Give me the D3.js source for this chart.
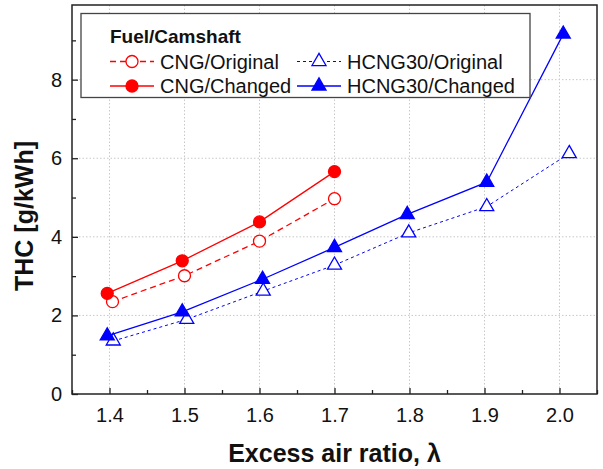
<!DOCTYPE html>
<html>
<head>
<meta charset="utf-8">
<script src="https://cdn.jsdelivr.net/npm/d3@7"></script>
<style>
  body { margin: 0; background: #fff; }
  svg { display: block; font-family: Arial, "Liberation Sans", sans-serif; }
</style>
</head>
<body>
<div id="chart"></div>
<script>
// Data
const cngOrigX = [1.404, 1.5, 1.6, 1.7];
const cngOrigY = [2.35, 3.01, 3.89, 4.97];
const cngChgX = [1.397, 1.497, 1.6, 1.7];
const cngChgY = [2.56, 3.39, 4.38, 5.66];
const hcngOrigX = [1.405, 1.503, 1.605, 1.7, 1.799, 1.903, 2.013];
const hcngOrigY = [1.35, 1.9, 2.62, 3.28, 4.1, 4.77, 6.12];
const hcngChgX = [1.397, 1.497, 1.604, 1.7, 1.797, 1.903, 2.005];
const hcngChgY = [1.48, 2.09, 2.92, 3.73, 4.57, 5.39, 9.16];

const xTicks = [1.4, 1.5, 1.6, 1.7, 1.8, 1.9, 2.0];
const xMinor = [1.35, 1.45, 1.55, 1.65, 1.75, 1.85, 1.95, 2.05];
const yTicks = [0, 2, 4, 6, 8];
const yMinor = [1, 3, 5, 7, 9];

const W = 603, H = 469;
const margin = { left: 72, right: 6, top: 5, bottom: 75 };
const iw = W - margin.left - margin.right;
const ih = H - margin.top - margin.bottom;

const svg = d3.select('#chart').append('svg')
  .attr('width', W).attr('height', H);

const g = svg.append('g')
  .attr('transform', `translate(${margin.left},${margin.top})`);

const x = d3.scaleLinear().domain([1.35, 2.05]).range([0, iw]);
const y = d3.scaleLinear().domain([0, 9.9]).range([ih, 0]);

// Grid
g.append('g').selectAll('line').data(xTicks).join('line')
  .attr('x1', d => x(d)).attr('x2', d => x(d))
  .attr('y1', 0).attr('y2', ih)
  .attr('stroke', '#c8c8c8').attr('stroke-width', 1).attr('stroke-dasharray', '1.5,2');
g.append('g').selectAll('line').data(yTicks.filter(d => d > 0)).join('line')
  .attr('x1', 0).attr('x2', iw)
  .attr('y1', d => y(d)).attr('y2', d => y(d))
  .attr('stroke', '#c8c8c8').attr('stroke-width', 1).attr('stroke-dasharray', '1.5,2');

// Axes
const xAxis = g.append('g').attr('transform', `translate(0,${ih})`)
  .call(d3.axisBottom(x).tickValues(xTicks).tickFormat(d3.format('.1f'))
    .tickSizeInner(-6).tickSizeOuter(0).tickPadding(14));
const xAxisMinor = g.append('g').attr('transform', `translate(0,${ih})`)
  .call(d3.axisBottom(x).tickValues(xMinor).tickFormat('')
    .tickSizeInner(-4).tickSizeOuter(0));
const yAxis = g.append('g')
  .call(d3.axisLeft(y).tickValues(yTicks).tickFormat(d3.format('d'))
    .tickSizeInner(-6).tickSizeOuter(0).tickPadding(10));
const yAxisMinor = g.append('g')
  .call(d3.axisLeft(y).tickValues(yMinor).tickFormat('')
    .tickSizeInner(-4).tickSizeOuter(0));

[xAxis, xAxisMinor, yAxis, yAxisMinor].forEach(a => {
  a.select('.domain').remove();
  a.selectAll('line').attr('stroke', '#222').attr('stroke-width', 1.3);
  a.selectAll('text').attr('font-size', 20).attr('fill', '#111')
    .attr('font-family', 'Arial, "Liberation Sans", sans-serif');
});

// Frame
g.append('rect').attr('x', 0).attr('y', 0).attr('width', iw).attr('height', ih)
  .attr('fill', 'none').attr('stroke', '#222').attr('stroke-width', 1.5);

// Series
const line = d3.line().x(d => x(d[0])).y(d => y(d[1]));
const zip = (xs, ys) => xs.map((v, i) => [v, ys[i]]);

const series = [
  { name: 'CNG/Original', data: zip(cngOrigX, cngOrigY), color: '#ff0000', dash: '6,4', width: 1.3, marker: 'circle', fill: false },
  { name: 'CNG/Changed', data: zip(cngChgX, cngChgY), color: '#ff0000', dash: null, width: 1.3, marker: 'circle', fill: true },
  { name: 'HCNG30/Original', data: zip(hcngOrigX, hcngOrigY), color: '#0000ff', dash: '3,3', width: 1, marker: 'triangle', fill: false },
  { name: 'HCNG30/Changed', data: zip(hcngChgX, hcngChgY), color: '#0000ff', dash: null, width: 1.3, marker: 'triangle', fill: true }
];

const sym = {
  circle: d3.symbol().type(d3.symbolCircle).size(Math.PI * 36),
  triangle: d3.symbol().type(d3.symbolTriangle).size(85)
};

function drawMarker(sel, s, cx, cy) {
  sel.append('path')
    .attr('d', sym[s.marker]())
    .attr('transform', `translate(${cx},${cy})`)
    .attr('fill', s.fill ? s.color : '#fff')
    .attr('stroke', s.color).attr('stroke-width', 1.3);
}

series.forEach(s => {
  g.append('path').datum(s.data)
    .attr('d', line)
    .attr('fill', 'none')
    .attr('stroke', s.color)
    .attr('stroke-width', s.width)
    .attr('stroke-dasharray', s.dash);
  s.data.forEach(d => drawMarker(g, s, x(d[0]), y(d[1])));
});

// Legend
const lg = svg.append('g');
lg.append('rect').attr('x', 81).attr('y', 13.5).attr('width', 449).attr('height', 84)
  .attr('fill', '#fff').attr('stroke', '#444').attr('stroke-width', 1.3);
lg.append('text').attr('x', 110).attr('y', 43)
  .attr('font-size', 19).attr('font-weight', 'bold').attr('fill', '#111')
  .text('Fuel/Camshaft');

const legendPos = [
  { lx: 110, ly: 61.5 }, { lx: 110, ly: 86 },
  { lx: 297, ly: 61.5 }, { lx: 297, ly: 86 }
];
series.forEach((s, i) => {
  const p = legendPos[i];
  lg.append('line').attr('x1', p.lx).attr('x2', p.lx + 44)
    .attr('y1', p.ly).attr('y2', p.ly)
    .attr('stroke', s.color).attr('stroke-width', s.width)
    .attr('stroke-dasharray', s.dash);
  drawMarker(lg, s, p.lx + 22, p.ly);
  lg.append('text').attr('x', p.lx + 50).attr('y', p.ly + 7)
    .attr('font-size', 20).attr('fill', '#111')
    .text(s.name);
});

// Axis titles
svg.append('text')
  .attr('x', 334.5).attr('y', 462)
  .attr('text-anchor', 'middle')
  .attr('font-size', 25).attr('font-weight', 'bold').attr('fill', '#111')
  .text('Excess air ratio, λ');

svg.append('text')
  .attr('transform', 'translate(33,216) rotate(-90)')
  .attr('text-anchor', 'middle')
  .attr('font-size', 25).attr('font-weight', 'bold').attr('fill', '#111')
  .text('THC [g/kWh]');
</script>
</body>
</html>
